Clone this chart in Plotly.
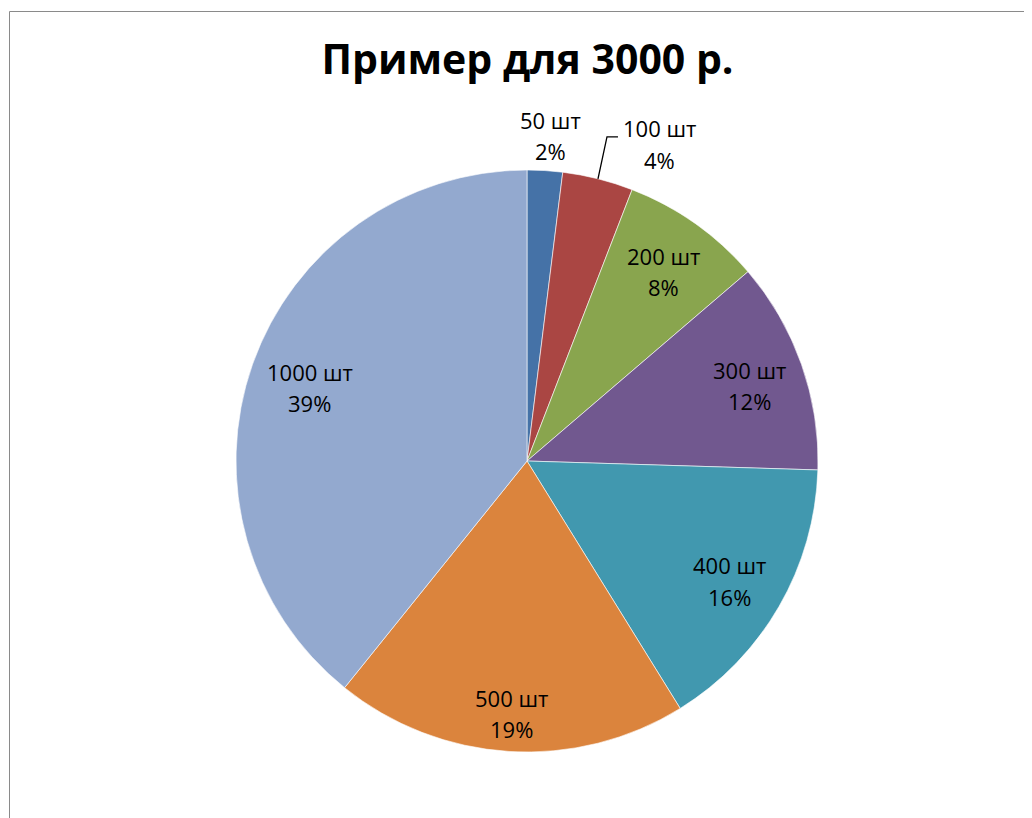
import math
import plotly.graph_objects as go

labels = ["50 шт", "100 шт", "200 шт", "300 шт", "400 шт", "500 шт", "1000 шт"]
values = [50, 100, 200, 300, 400, 500, 1000]
pct_labels = ["2%", "4%", "8%", "12%", "16%", "19%", "39%"]
colors = ["#4572A7", "#AA4643", "#89A54E", "#71588F", "#4198AF", "#DB843D", "#93A9CF"]
title = "Пример для 3000 р."

W, H = 1032, 818
cx, cy, R = 519, 453, 291          # pie centre / radius in figure pixels
FONT = "Open Sans"
FS = 22
LINE = 31.5                        # label line spacing (px)


def px(x):
    return x / W


def py(y):
    return 1 - y / H


def polar(angle_deg, r):
    a = math.radians(angle_deg)
    return cx + r * math.sin(a), cy - r * math.cos(a)


fig = go.Figure(go.Pie(
    labels=labels,
    values=values,
    textinfo="none",
    sort=False,
    direction="clockwise",
    rotation=0,
    marker=dict(colors=colors, line=dict(color="white", width=0.6)),
    showlegend=False,
    hoverinfo="label+value+percent",
    domain=dict(x=[px(cx - R), px(cx + R)], y=[py(cy + R), py(cy - R)]),
))

# slice mid angles (clockwise from 12 o'clock), derived from the values
total = sum(values)
mids = []
cum = 0
for v in values:
    mids.append((cum + v / 2) / total * 360)
    cum += v

annotations = []
shapes = []


def add_label(x, y, lab, pct):
    for k, t in enumerate((lab, pct)):
        annotations.append(dict(x=px(x), y=py(y + (k - 0.5) * LINE), xref="paper", yref="paper",
                                text=t, showarrow=False, xanchor="center", yanchor="middle",
                                font=dict(family=FONT, size=FS, color="black")))


for i, (lab, pct, ang) in enumerate(zip(labels, pct_labels, mids)):
    if i == 0:
        x, y = polar(ang, R * 1.12)
        add_label(x + 3, y, lab, pct)
    elif i == 1:
        ex, ey = polar(ang, R)
        bx, by = ex + 9, ey - 42
        lx, ly = ex + 20, ey - 42
        shapes.append(dict(type="path", xref="paper", yref="paper",
                           path=f"M {px(ex)},{py(ey)} L {px(bx)},{py(by)} L {px(lx)},{py(ly)}",
                           line=dict(color="black", width=1.3)))
        add_label(ex + 62, ey - 35, lab, pct)
    else:
        a = math.radians(ang)
        hw = 6.15 * len(lab)
        hh = 28
        extent = hw * abs(math.sin(a)) + hh * abs(math.cos(a))
        r = 280 - extent
        x, y = polar(ang, r)
        add_label(x, y + 3, lab, pct)

shapes.insert(0, dict(type="rect", xref="paper", yref="paper",
                      x0=px(1.5), x1=1.05, y0=-0.05, y1=py(3.5),
                      line=dict(color="#8A8A8A", width=1), fillcolor="rgba(0,0,0,0)", layer="below"))

fig.update_layout(
    width=W, height=H,
    margin=dict(l=0, r=0, t=0, b=0),
    paper_bgcolor="white",
    plot_bgcolor="white",
    title=dict(text="<b>" + title + "</b>", x=px(519.5), xanchor="center", y=py(52), yanchor="middle",
               font=dict(family=FONT, size=41, color="black")),
    shapes=shapes,
    annotations=annotations,
)

fig.write_html("out.html")
